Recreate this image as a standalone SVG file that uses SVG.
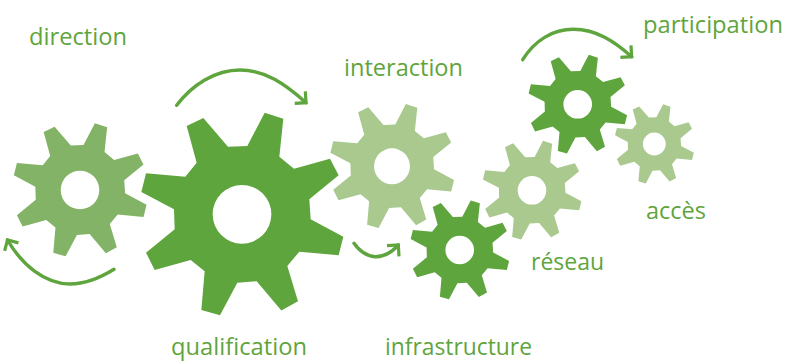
<svg xmlns="http://www.w3.org/2000/svg" width="786" height="361" viewBox="0 0 786 361">
<style>
.t{font-family:"Open Sans","Noto Sans",sans-serif;font-size:23px;fill:#5fa53d}
.d{fill:#5fa53d}.l{fill:#a9c98f}.m{fill:#82b366}
.c{fill:none;stroke:#5fa53d;stroke-width:3.4;stroke-linecap:round}
</style>
<defs>
<path id="gear" fill-rule="evenodd" d="M-166-265L-116-289L-42-203L16-205L68-305L124-287L112-173L156-137L264-167L290-117L202-45L206 15L304 67L290 123L172 112L136 155L168 261L118 289L44 201L-14 205L-66 303L-122 287L-112 171L-154 137L-262 167L-288 115L-202 45L-204-15L-302-67L-288-123L-170-113L-136-155ZM0-88A88 88 0 1 0 0 88A88 88 0 1 0 0-88Z"/>
<marker id="head" markerUnits="userSpaceOnUse" markerWidth="24" markerHeight="24" refX="0" refY="0" viewBox="-12 -12 24 24" orient="auto" overflow="visible"><path d="M-8-8L0 0L-8 8" fill="none" stroke="#5fa53d" stroke-width="3.2"/></marker>
</defs>
<g id="connectors">
<path class="c" marker-end="url(#head)" d="M176.7 105.3C192 85 215 70 240 70C265 70 285 84 306 102.7"/>
<path class="c" marker-end="url(#head)" d="M114 269.3C100 278 85 284 70 284C45 284 22 265 7.5 240"/>
<path class="c" marker-end="url(#head)" d="M354 243.3C360 252 367 256 375 256.7C385 257 393 251 398.3 245"/>
<path class="c" marker-end="url(#head)" d="M522.7 59.7C535 40 553 29.3 573.3 29.3C597 29.3 615 42 631.7 56.7"/>
</g>
<g id="direction"><use href="#gear" class="m" transform="translate(80 190) scale(.219)"/><text class="t" x="29" y="45" textLength="98" lengthAdjust="spacingAndGlyphs">direction</text></g>
<g id="qualification"><use href="#gear" class="d" transform="translate(242 214.3) scale(.3333)"/><text class="t" x="171" y="355" textLength="136" lengthAdjust="spacingAndGlyphs">qualification</text></g>
<g id="interaction"><use href="#gear" class="l" transform="translate(392 166.3) scale(.204)"/><text class="t" x="344" y="76" textLength="119" lengthAdjust="spacingAndGlyphs">interaction</text></g>
<g id="infrastructure"><use href="#gear" class="d" transform="translate(459.7 250) scale(.1625)"/><text class="t" x="385" y="355" textLength="147" lengthAdjust="spacingAndGlyphs">infrastructure</text></g>
<g id="reseau"><use href="#gear" class="l" transform="translate(532 190.3) scale(.1625)"/><text class="t" x="531" y="270" textLength="73" lengthAdjust="spacingAndGlyphs">réseau</text></g>
<g id="participation"><use href="#gear" class="d" transform="translate(577.7 104.3) scale(.1625)"/><text class="t" x="643" y="33" textLength="140" lengthAdjust="spacingAndGlyphs">participation</text></g>
<g id="acces"><use href="#gear" class="l" transform="translate(654.3 144) scale(.13)"/><text class="t" x="646" y="219" textLength="60" lengthAdjust="spacingAndGlyphs">accès</text></g>
</svg>
